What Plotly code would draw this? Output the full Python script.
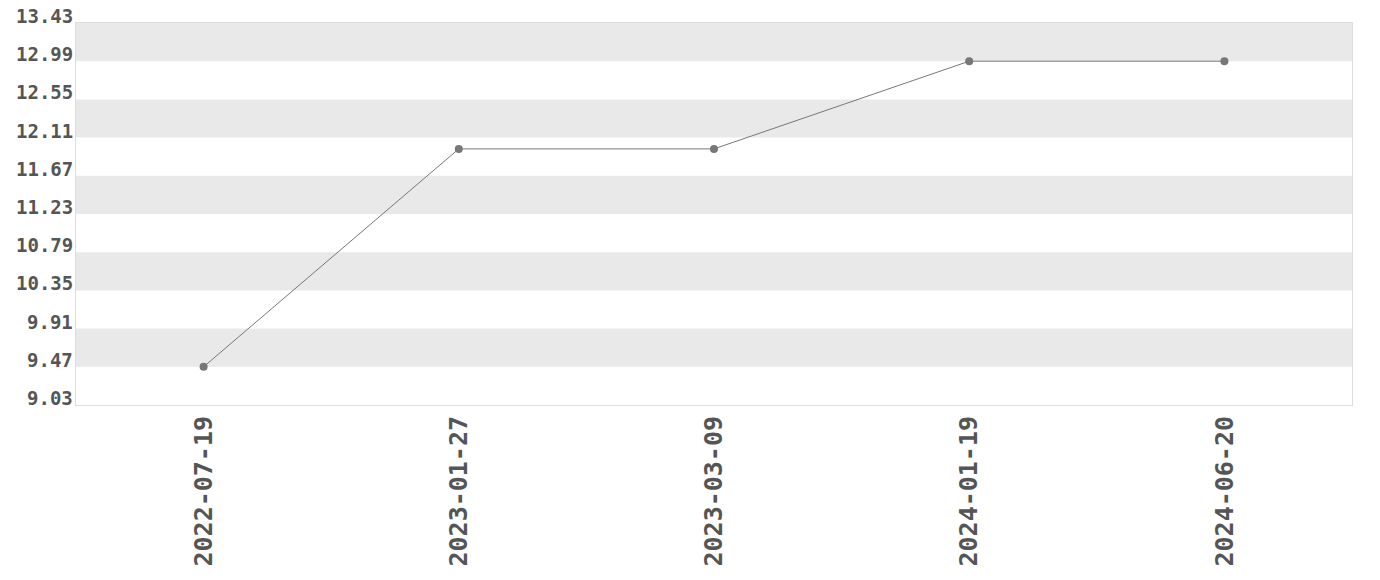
import plotly.graph_objects as go

dates = ["2022-07-19", "2023-01-27", "2023-03-09", "2024-01-19", "2024-06-20"]
values = [9.47, 11.98, 11.98, 12.99, 12.99]
tick_vals = [9.03, 9.47, 9.91, 10.35, 10.79, 11.23, 11.67, 12.11, 12.55, 12.99, 13.43]
tick_text = ["9.03", "9.47", "9.91", "10.35", "10.79", "11.23", "11.67", "12.11", "12.55", "12.99", "13.43"]

font_family = "DejaVu Sans Mono"

fig = go.Figure()
fig.add_trace(go.Scatter(
    x=dates, y=values, mode="lines+markers",
    line=dict(color="#777777", width=1),
    marker=dict(color="#777777", size=8),
    showlegend=False,
))

shapes = []
for i in range(len(tick_vals) - 1):
    idx_from_top = len(tick_vals) - 2 - i
    if idx_from_top % 2 == 0:
        shapes.append(dict(type="rect", xref="paper", yref="y", x0=0, x1=1,
                           y0=tick_vals[i], y1=tick_vals[i + 1],
                           fillcolor="#e9e9e9", line=dict(width=0), layer="below"))

annotations = [
    dict(x=0, xref="paper", y=v, yref="y", text=t, showarrow=False,
         xanchor="right", yanchor="middle", xshift=-1, yshift=7,
         font=dict(family=font_family, size=19, color="#555555", weight="bold"))
    for v, t in zip(tick_vals, tick_text)
]

fig.update_layout(
    width=1380, height=580,
    margin=dict(l=68, r=36, t=15, b=183, autoexpand=False),
    paper_bgcolor="white", plot_bgcolor="white",
    shapes=shapes,
    annotations=annotations,
    font=dict(family=font_family, color="#555555"),
    xaxis=dict(type="category", tickangle=-90, showgrid=False, zeroline=False,
               showline=True, linecolor="#dddddd", mirror=True, ticks="",
               tickfont=dict(family=font_family, size=25, color="#555555", weight="bold"),
               range=[-0.5, 4.5], automargin=False),
    yaxis=dict(range=[9.03, 13.43], tickvals=tick_vals, showticklabels=False,
               showgrid=False, zeroline=False, showline=True, linecolor="#dddddd",
               mirror=True, ticks="", automargin=False),
)

fig.write_html("out.html")
